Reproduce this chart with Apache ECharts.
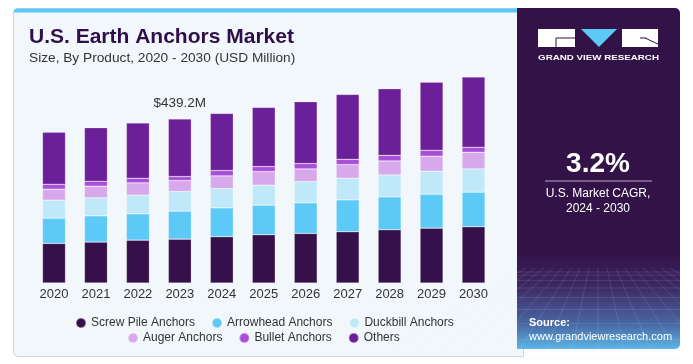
<!DOCTYPE html>
<html>
<head>
<meta charset="utf-8">
<script src="https://cdn.jsdelivr.net/npm/echarts@6/dist/echarts.min.js"></script>
<style>
html,body{margin:0;padding:0;background:#ffffff;}
#main{width:693px;height:364px;}
</style>
</head>
<body>
<div id="main"></div>
<script>
const years = ['2020','2021','2022','2023','2024','2025','2026','2027','2028','2029','2030'];
const screwPile = [106.0,109.6,114.9,117.6,123.8,129.2,132.7,137.2,142.5,147.0,150.6];
const arrowhead = [67.7,70.4,70.4,74.8,77.5,79.3,82.0,85.5,88.2,90.9,92.7];
const duckbill = [48.1,48.1,49.9,52.6,51.7,53.5,57.0,57.9,58.8,61.5,62.4];
const auger = [29.4,31.2,33.0,29.4,33.9,36.5,33.9,36.5,37.4,40.1,44.5];
const bullet = [13.4,13.4,12.5,10.7,14.3,13.4,14.3,14.3,15.1,16.0,13.4];
const others = [139.0,143.4,147.9,154.1,153.2,158.6,165.7,173.7,178.2,182.6,188.0];
const seriesNames = ['Screw Pile Anchors','Arrowhead Anchors','Duckbill Anchors','Auger Anchors','Bullet Anchors','Others'];
const annotationIndex = 3;
const annotationText = '$439.2M';
const cagrValue = '3.2%';

const colors = ['#36104a','#5cc9f6','#bfe9f9','#d8a8ec','#a84fd9','#6b1f98'];
const allData = [screwPile, arrowhead, duckbill, auger, bullet, others];
const FONT = '"Liberation Sans", Arial, sans-serif';

const series = seriesNames.map((name, i) => ({
  name: name,
  type: 'bar',
  stack: 'total',
  barWidth: 23,
  itemStyle: { color: colors[i], borderColor: 'rgba(255,255,255,0.35)', borderWidth: 0.6 },
  emphasis: { disabled: true },
  data: allData[i].map((v, j) => {
    if (i === allData.length - 1 && j === annotationIndex) {
      return { value: v, label: { show: true, position: 'top', distance: 9, formatter: annotationText, color: '#333', fontSize: 13.5, fontFamily: FONT } };
    }
    return v;
  })
}));

// sidebar grid pattern lines
const patternLines = [];
for (let k = 0; k < 9; k++) {
  const y = 272 + k * k * 1.1 + k * 2;
  patternLines.push({ type: 'line', shape: { x1: 517, y1: y, x2: 680, y2: y }, style: { stroke: 'rgba(200,220,255,0.18)', lineWidth: 0.8 }, silent: true });
}
for (let k = -8; k <= 8; k++) {
  const xTop = 598 + k * 9;
  const xBot = 598 + k * 26;
  patternLines.push({ type: 'line', shape: { x1: xTop, y1: 268, x2: xBot, y2: 349 }, style: { stroke: 'rgba(200,220,255,0.16)', lineWidth: 0.8 }, silent: true });
}

const chart = echarts.init(document.getElementById('main'), null, { renderer: 'canvas' });
chart.setOption({
  animation: false,
  backgroundColor: '#ffffff',
  graphic: [
    { type: 'rect', z: -10, shape: { x: 13.5, y: 8.5, width: 510, height: 348, r: [5,0,0,5] }, style: { fill: '#f2f7fb', stroke: '#cfd4d8', lineWidth: 1 }, silent: true },
    { type: 'rect', z: -9, shape: { x: 13.5, y: 8.5, width: 506, height: 4, r: [4,0,0,0] }, style: { fill: '#5bc8f5' }, silent: true },
    { type: 'rect', z: -8, shape: { x: 517, y: 8, width: 163, height: 341, r: [0,5,5,0] }, style: { fill: {
        type: 'linear', x: 0, y: 0, x2: 0, y2: 1,
        colorStops: [
          { offset: 0, color: '#331248' },
          { offset: 0.72, color: '#331248' },
          { offset: 0.82, color: '#3d2a63' },
          { offset: 0.93, color: '#4a6aa6' },
          { offset: 1, color: '#5cb6e6' }
        ] } }, silent: true },
    ...patternLines,
    // logo
    { type: 'rect', shape: { x: 538, y: 29, width: 37, height: 18 }, style: { fill: '#ffffff' }, silent: true },
    { type: 'line', shape: { x1: 556, y1: 38, x2: 575, y2: 38 }, style: { stroke: '#331248', lineWidth: 1 }, silent: true },
    { type: 'line', shape: { x1: 556, y1: 38, x2: 556, y2: 47 }, style: { stroke: '#331248', lineWidth: 1 }, silent: true },
    { type: 'polygon', shape: { points: [[581,29],[617,29],[599,47]] }, style: { fill: '#5bc8f5' }, silent: true },
    { type: 'rect', shape: { x: 622, y: 29, width: 36, height: 18 }, style: { fill: '#ffffff' }, silent: true },
    { type: 'line', shape: { x1: 645, y1: 38, x2: 658, y2: 44 }, style: { stroke: '#331248', lineWidth: 1 }, silent: true },
    { type: 'line', shape: { x1: 640, y1: 38, x2: 646, y2: 38 }, style: { stroke: '#331248', lineWidth: 1 }, silent: true },
    { type: 'text', x: 598.5, y: 58, scaleX: 1.22, style: { x: 0, y: 0, text: 'GRAND VIEW RESEARCH', fill: '#ffffff', font: 'bold 8px ' + FONT, textAlign: 'center', textVerticalAlign: 'middle' }, silent: true },
    // CAGR
    { type: 'text', style: { x: 598, y: 164, text: cagrValue, fill: '#ffffff', font: 'bold 28px ' + FONT, textAlign: 'center', textVerticalAlign: 'middle' }, silent: true },
    { type: 'line', shape: { x1: 545, y1: 181, x2: 652, y2: 181 }, style: { stroke: '#b9a9c8', lineWidth: 1 }, silent: true },
    { type: 'text', style: { x: 598, y: 194, text: 'U.S. Market CAGR,', fill: '#ffffff', font: '12px ' + FONT, textAlign: 'center', textVerticalAlign: 'middle' }, silent: true },
    { type: 'text', style: { x: 598, y: 209, text: '2024 - 2030', fill: '#ffffff', font: '12px ' + FONT, textAlign: 'center', textVerticalAlign: 'middle' }, silent: true },
    // source
    { type: 'text', style: { x: 529, y: 323, text: 'Source:', fill: '#ffffff', font: 'bold 11px ' + FONT, textAlign: 'left', textVerticalAlign: 'middle' }, silent: true },
    { type: 'text', style: { x: 529, y: 337, text: 'www.grandviewresearch.com', fill: '#ffffff', font: '11px ' + FONT, textAlign: 'left', textVerticalAlign: 'middle' }, silent: true },
    // titles
    { type: 'text', style: { x: 29, y: 37, text: 'U.S. Earth Anchors Market', fill: '#2e0f4a', font: 'bold 21px ' + FONT, textAlign: 'left', textVerticalAlign: 'middle' }, silent: true },
    { type: 'text', style: { x: 29, y: 58, text: 'Size, By Product, 2020 - 2030 (USD Million)', fill: '#333333', font: '13.7px ' + FONT, textAlign: 'left', textVerticalAlign: 'middle' }, silent: true }
  ],
  grid: { left: 33, right: 198.5, top: 59, bottom: 81 },
  xAxis: {
    type: 'category',
    data: years,
    axisLine: { show: false },
    axisTick: { show: false },
    axisLabel: { margin: 5, color: '#333333', fontSize: 13, fontFamily: FONT }
  },
  yAxis: { type: 'value', min: 0, max: 600, show: false, splitLine: { show: false } },
  legend: [
    {
      data: seriesNames.slice(0, 3),
      left: 70, top: 312,
      icon: 'circle', itemWidth: 10, itemHeight: 10, itemGap: 16,
      textStyle: { color: '#333333', fontSize: 12, fontFamily: FONT },
      selectedMode: false
    },
    {
      data: seriesNames.slice(3),
      left: 122, top: 327,
      icon: 'circle', itemWidth: 10, itemHeight: 10, itemGap: 16,
      textStyle: { color: '#333333', fontSize: 12, fontFamily: FONT },
      selectedMode: false
    }
  ],
  series: series
});
</script>
</body>
</html>
